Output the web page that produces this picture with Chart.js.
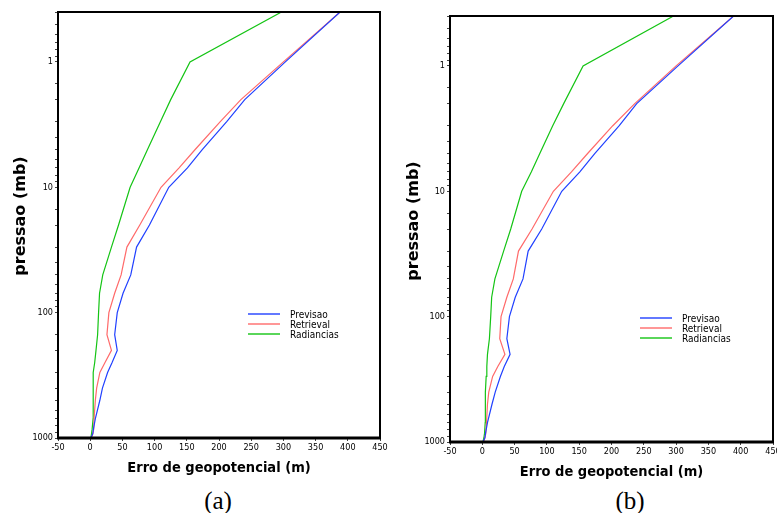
<!DOCTYPE html>
<html><head><meta charset="utf-8">
<script src="https://cdn.jsdelivr.net/npm/chart.js@4.4.1/dist/chart.umd.min.js"></script>
<style>
html,body{margin:0;padding:0;background:#fff;width:777px;height:513px;overflow:hidden;}
canvas{position:absolute;top:0;}
#ca{left:0;}
#cb{left:390px;}
.cap{position:absolute;font-family:"Liberation Serif","Times New Roman",serif;font-size:25px;line-height:25px;top:488px;width:100px;text-align:center;color:#000;}
</style></head><body>
<canvas id="ca" width="390" height="484"></canvas>
<canvas id="cb" width="387" height="484"></canvas>
<div class="cap" style="left:168px">(a)</div>
<div class="cap" style="left:580px">(b)</div>
<script>
// Pressure levels (mb)
const levels = [1000, 925, 850, 700, 500, 400, 300, 250, 200, 150, 100, 70, 50, 30, 20, 10, 7, 5, 3, 2, 1, 0.4];
// Panel (a) geopotential error (m)
const previsaoA   = [1, 4, 5, 8, 15, 19, 27, 34, 42, 38, 42, 51, 63, 72, 92, 122, 151, 174, 212, 240, 303, 388];
const retrievalA  = [2, 4, 5.5, 6, 8, 10, 15, 23, 33, 26, 29, 38, 48, 57, 77, 110, 138, 163, 202, 234, 300, 388];
const radianciasA = [1, 2, 3, 4.5, 4.5, 4.5, 5, 7, 9, 11.5, 13, 14.5, 19.5, 33, 44, 62, 76, 89, 109, 125, 155, 297];
// Panel (b) geopotential error (m)
const previsaoB   = [1, 4, 5, 8, 15, 20, 28, 34, 43, 38, 42, 51, 63, 71, 92, 123, 151, 174, 212, 239, 303, 389];
const retrievalB  = [2, 4, 5.5, 6.5, 8, 10, 16, 24, 35, 27, 29, 38, 48, 56, 77, 110, 138, 163, 202, 236, 300, 389];
const radianciasB = [1, 2.5, 3.5, 4.5, 4.5, 5, 6, 7, 8, 11, 13, 14.5, 19.5, 33, 44, 61, 76, 89, 109, 126, 156, 296];
const seriesNames = ['Previsao', 'Retrieval', 'Radiancias'];
const seriesColors = ['#2040ff', '#ff6a6a', '#14c414'];
const xTitle = 'Erro de geopotencial (m)';
const yTitle = 'pressao (mb)';

const FAM = '"DejaVu Sans Condensed","DejaVu Sans",sans-serif';
const tickFont = {family: FAM, size: 9};
const titleFont = {family: FAM, size: 14.5, weight: 'bold'};

const framePlugin = {
  id: 'frame',
  afterDraw(chart, args, opts) {
    const {ctx, chartArea: a} = chart;
    ctx.save();
    ctx.strokeStyle = '#000';
    ctx.lineWidth = 2;
    ctx.beginPath();
    ctx.moveTo(a.left, a.bottom); ctx.lineTo(a.left, a.top); ctx.lineTo(a.right, a.top); ctx.lineTo(a.right, a.bottom);
    ctx.stroke();
    ctx.lineWidth = 3;
    ctx.beginPath();
    ctx.moveTo(a.left - 1, a.bottom); ctx.lineTo(a.right + 1, a.bottom);
    ctx.stroke();
    // y title
    ctx.save();
    ctx.translate(opts.yTitleX, opts.yTitleY);
    ctx.rotate(-Math.PI / 2);
    ctx.font = 'bold 16px "DejaVu Sans",sans-serif';
    ctx.fillStyle = '#000';
    ctx.textAlign = 'center';
    ctx.textBaseline = 'middle';
    ctx.fillText(yTitle, 0, 0);
    ctx.restore();
    // legend
    ctx.font = '10px ' + FAM;
    ctx.textBaseline = 'alphabetic';
    ctx.textAlign = 'left';
    chart.data.datasets.forEach((ds, i) => {
      const y = a.top + 302 + i * 10;
      ctx.strokeStyle = ds.borderColor;
      ctx.lineWidth = 1.4;
      ctx.beginPath();
      ctx.moveTo(a.left + 190, y); ctx.lineTo(a.left + 222, y);
      ctx.stroke();
      ctx.fillStyle = '#000';
      ctx.fillText(ds.label, a.left + 232, y + 3.5);
    });
    ctx.restore();
  }
};

function makeChart(id, arrs, g) {
  const datasets = arrs.map((arr, k) => ({
    label: seriesNames[k],
    data: levels.map((p, i) => ({x: arr[i], y: p})),
    borderColor: seriesColors[k],
    backgroundColor: seriesColors[k],
    borderWidth: 1.2,
    pointRadius: 0,
    showLine: true,
    fill: false,
    tension: 0
  }));
  return new Chart(document.getElementById(id), {
    type: 'scatter',
    data: {datasets},
    options: {
      responsive: false,
      animation: false,
      layout: {padding: {left: 0, right: g.padRight, top: g.padTop, bottom: 0}},
      plugins: {
        legend: {display: false}, tooltip: {enabled: false},
        frame: {yTitleX: g.yTitleX, yTitleY: g.yTitleY}
      },
      scales: {
        x: {
          type: 'linear', position: 'bottom', min: -50, max: 450,
          ticks: {stepSize: 50, autoSkip: false, maxRotation: 0, font: tickFont, color: '#000', padding: 1},
          grid: {display: true, drawOnChartArea: false, drawTicks: true, tickLength: 3, tickColor: '#444'},
          border: {display: false},
          title: {display: true, text: xTitle, font: titleFont, color: '#000', padding: {top: 0, bottom: g.xTitlePad}},
          afterFit(s) { s.height = g.xH; s.paddingLeft = 0; s.paddingRight = 0; }
        },
        y: {
          type: 'logarithmic', position: 'left', min: 0.4, max: 1000, reverse: true,
          ticks: {
            autoSkip: false, font: tickFont, color: '#000', padding: 2,
            callback(v) {
              const l = Math.log10(v);
              return Math.abs(l - Math.round(l)) < 1e-9 ? String(Math.round(v * 10) / 10) : '';
            }
          },
          grid: {display: true, drawOnChartArea: false, drawTicks: true, tickLength: 3, tickColor: '#444'},
          border: {display: false},
          title: {display: false},
          afterFit(s) { s.width = g.yW; s.paddingTop = 0; s.paddingBottom = 0; }
        }
      }
    },
    plugins: [framePlugin]
  });
}

makeChart('ca', [previsaoA, retrievalA, radianciasA],
  {padRight: 10, padTop: 12, xH: 46, yW: 58, xTitlePad: 7.3, yTitleX: 21, yTitleY: 216});
makeChart('cb', [previsaoB, retrievalB, radianciasB],
  {padRight: 4, padTop: 16, xH: 42, yW: 60, xTitlePad: 3.3, yTitleX: 24, yTitleY: 221});
</script>
</body></html>
